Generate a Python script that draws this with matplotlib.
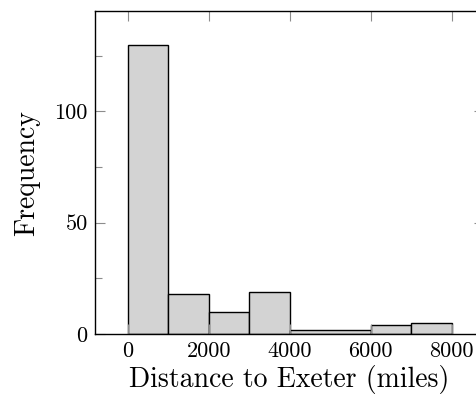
import matplotlib
matplotlib.use("Agg")
import matplotlib.pyplot as plt
import numpy as np

bin_edges = [0, 1000, 2000, 3000, 4000, 6000, 7000, 8000]
counts = [130, 18, 10, 19, 2, 4, 5]
xticks = [0, 2000, 4000, 6000, 8000]
yticks = [0, 50, 100]
yminor = [25, 75, 125]

plt.rcParams['font.family'] = ['cmr10', 'DejaVu Serif']
plt.rcParams['axes.formatter.use_mathtext'] = True
plt.rcParams['mathtext.fontset'] = 'cm'

fig = plt.figure(figsize=(4.76, 3.97), dpi=100)
ax = fig.add_axes([0.2002, 0.1587, 0.8166, 0.8128])

edges = np.array(bin_edges)
ax.bar(edges[:-1], counts, width=np.diff(edges), align='edge',
       color='#d3d3d3', edgecolor='black', linewidth=1.0)

ax.set_xlim(-800, 8800)
ax.set_ylim(0, 145)
ax.set_xticks(xticks)
ax.set_xticklabels([str(t) for t in xticks])
ax.set_yticks(yticks)
ax.set_yticklabels([str(t) for t in yticks])
ax.set_yticks(yminor, minor=True)

ax.tick_params(axis='both', which='major', direction='in', length=7.5, width=0.8,
               color='0.55', labelsize=16, pad=5.5, top=True, right=True)
ax.tick_params(axis='y', which='minor', direction='in', length=5, width=0.8,
               color='0.55', right=True)
for s in ax.spines.values():
    s.set_linewidth(1.0)

ax.set_xlabel('Distance to Exeter (miles)', fontsize=20, labelpad=3)
ax.set_ylabel('Frequency', fontsize=20, labelpad=10)

fig.savefig('out.png', dpi=100)
